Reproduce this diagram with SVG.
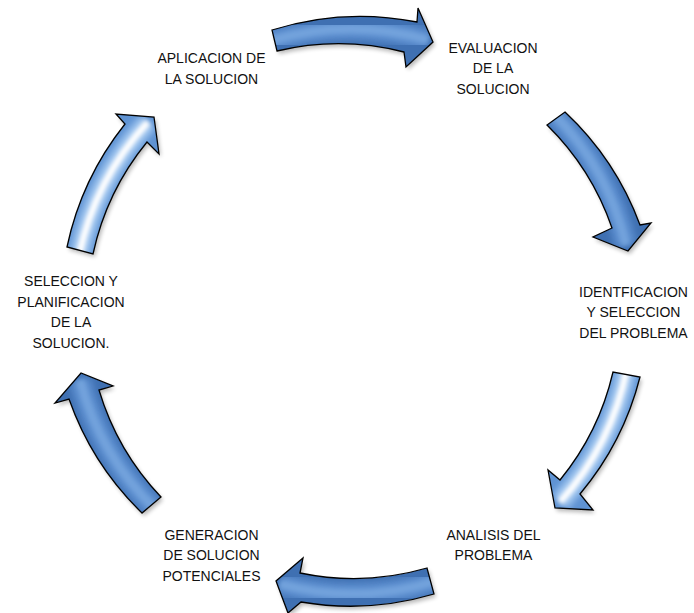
<svg xmlns="http://www.w3.org/2000/svg" xmlns:xlink="http://www.w3.org/1999/xlink" width="694" height="613" viewBox="0 0 694 613">
<style>
.lbl{font-family:"Liberation Sans",Arial,sans-serif;font-size:14px;fill:#111;text-anchor:middle}
.outline{fill:none;stroke:#000;stroke-width:1.3;stroke-linejoin:miter}
.shadow{fill:#000;opacity:0.28;filter:url(#sh)}
.baseB{fill:#3f70b2}
.midB{fill:none;stroke:#5a8ccd;stroke-width:22;filter:url(#b3)}
.hiB{fill:none;stroke:#72a2dc;stroke-width:9;filter:url(#b2)}
.baseL{fill:#5f93d3}
.midL{fill:none;stroke:#9fc5ef;stroke-width:20;filter:url(#b3)}
.hiL{fill:none;stroke:#ffffff;stroke-width:7;filter:url(#b2)}
</style>
<defs>
<filter id="sh" x="-20%" y="-20%" width="140%" height="140%"><feGaussianBlur stdDeviation="2"/></filter>
<filter id="b3" x="-30%" y="-30%" width="160%" height="160%"><feGaussianBlur stdDeviation="3"/></filter>
<filter id="b2" x="-30%" y="-30%" width="160%" height="160%"><feGaussianBlur stdDeviation="2"/></filter>
<path id="s1" d="M 272,30 A 295,295 0 0 1 417,22 L 418,8 L 433,42 L 406,67 L 404,52 A 265,265 0 0 0 277,51 Z"/>
<path id="s2" d="M 565,112 A 295,295 0 0 1 640,225 L 651,223 L 628,251 L 593,237 L 612,228 A 265,265 0 0 0 547,125 Z"/>
<path id="s3" d="M 640,377 A 295,295 0 0 1 580,494 L 593,510 L 555,508 L 548,470 L 560,480 A 265,265 0 0 0 613,372 Z"/>
<path id="s4" d="M 434,594 A 295,295 0 0 1 301,602 L 288,613 L 276,581 L 303,558 L 300,573 A 265,265 0 0 0 427,568 Z"/>
<path id="s5" d="M 142,513 A 295,295 0 0 1 69,399 L 55,403 L 81,373 L 113,386 L 99,390 A 265,265 0 0 0 161,497 Z"/>
<path id="s6" d="M 67,247 A 295,295 0 0 1 125,124 L 116,114 L 154,117 L 159,154 L 147,142 A 265,265 0 0 0 93,254 Z"/>
<clipPath id="c1"><use xlink:href="#s1"/></clipPath>
<clipPath id="c2"><use xlink:href="#s2"/></clipPath>
<clipPath id="c3"><use xlink:href="#s3"/></clipPath>
<clipPath id="c4"><use xlink:href="#s4"/></clipPath>
<clipPath id="c5"><use xlink:href="#s5"/></clipPath>
<clipPath id="c6"><use xlink:href="#s6"/></clipPath>
</defs>
<rect width="694" height="613" fill="#fff"/>
<g id="connectors">
 <g id="arrow1">
  <use xlink:href="#s1" class="shadow" transform="translate(2,3)"/>
  <g clip-path="url(#c1)">
   <use xlink:href="#s1" class="baseB"/>
   <path class="midB" d="M 270,41 A 280,280 0 0 1 428,40"/>
   <path class="hiB" d="M 270,41 A 280,280 0 0 1 428,40"/>
  </g>
  <use xlink:href="#s1" class="outline"/>
 </g>
 <g id="arrow2">
  <use xlink:href="#s2" class="shadow" transform="translate(2,3)"/>
  <g clip-path="url(#c2)">
   <use xlink:href="#s2" class="baseB"/>
   <path class="midB" d="M 553,113 A 280,280 0 0 1 626,245"/>
   <path class="hiB" d="M 553,113 A 280,280 0 0 1 626,245"/>
  </g>
  <use xlink:href="#s2" class="outline"/>
 </g>
 <g id="arrow3">
  <use xlink:href="#s3" class="shadow" transform="translate(2,3)"/>
  <g clip-path="url(#c3)">
   <use xlink:href="#s3" class="baseL"/>
   <path class="midL" d="M 627,368 A 280,280 0 0 1 560,502"/>
   <path class="hiL" d="M 627,368 A 280,280 0 0 1 560,502"/>
  </g>
  <use xlink:href="#s3" class="outline"/>
 </g>
 <g id="arrow4">
  <use xlink:href="#s4" class="shadow" transform="translate(2,3)"/>
  <g clip-path="url(#c4)">
   <use xlink:href="#s4" class="baseB"/>
   <path class="midB" d="M 436,581 A 280,280 0 0 1 280,584"/>
   <path class="hiB" d="M 436,581 A 280,280 0 0 1 280,584"/>
  </g>
  <use xlink:href="#s4" class="outline"/>
 </g>
 <g id="arrow5">
  <use xlink:href="#s5" class="shadow" transform="translate(2,3)"/>
  <g clip-path="url(#c5)">
   <use xlink:href="#s5" class="baseB"/>
   <path class="midB" d="M 156,510 A 280,280 0 0 1 80,380"/>
   <path class="hiB" d="M 156,510 A 280,280 0 0 1 80,380"/>
  </g>
  <use xlink:href="#s5" class="outline"/>
 </g>
 <g id="arrow6">
  <use xlink:href="#s6" class="shadow" transform="translate(2,3)"/>
  <g clip-path="url(#c6)">
   <use xlink:href="#s6" class="baseL"/>
   <path class="midL" d="M 79,256 A 280,280 0 0 1 148,122"/>
   <path class="hiL" d="M 79,256 A 280,280 0 0 1 148,122"/>
  </g>
  <use xlink:href="#s6" class="outline"/>
 </g>
</g>
<g id="node-aplicacion"><text class="lbl" x="211.5" y="63">APLICACION DE</text><text class="lbl" x="211.5" y="84">LA SOLUCION</text></g>
<g id="node-evaluacion"><text class="lbl" x="493" y="52.5">EVALUACION</text><text class="lbl" x="493" y="73">DE LA</text><text class="lbl" x="493" y="93.5">SOLUCION</text></g>
<g id="node-identificacion"><text class="lbl" x="633.5" y="296.5">IDENTFICACION</text><text class="lbl" x="633.5" y="317">Y SELECCION</text><text class="lbl" x="633.5" y="337.5">DEL PROBLEMA</text></g>
<g id="node-analisis"><text class="lbl" x="493.5" y="539.5">ANALISIS DEL</text><text class="lbl" x="493.5" y="560">PROBLEMA</text></g>
<g id="node-generacion"><text class="lbl" x="211.5" y="539.5">GENERACION</text><text class="lbl" x="211.5" y="560">DE SOLUCION</text><text class="lbl" x="211.5" y="580.5">POTENCIALES</text></g>
<g id="node-seleccion"><text class="lbl" x="71" y="286">SELECCION Y</text><text class="lbl" x="71" y="306.6">PLANIFICACION</text><text class="lbl" x="71" y="327.2">DE LA</text><text class="lbl" x="71" y="347.8">SOLUCION.</text></g>
</svg>
